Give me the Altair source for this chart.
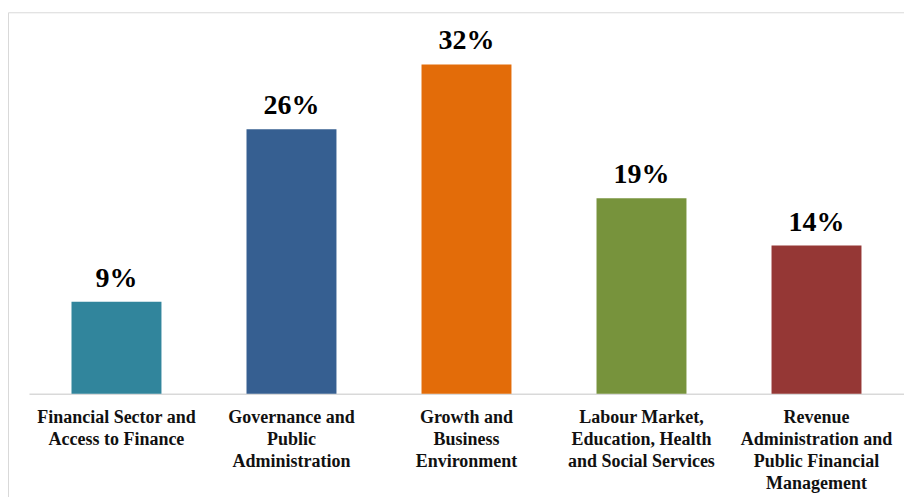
import altair as alt
import pandas as pd

categories = [
    "Financial Sector and|Access to Finance",
    "Governance and|Public|Administration",
    "Growth and|Business|Environment",
    "Labour Market,|Education, Health|and Social Services",
    "Revenue|Administration and|Public Financial|Management",
]
values = [8.95, 25.7, 32.0, 19.0, 14.4]
labels = ["9%", "26%", "32%", "19%", "14%"]
colors = ["#31859C", "#365F91", "#E36C09", "#77933C", "#953735"]

df = pd.DataFrame({"cat": categories, "val": values, "lab": labels})

FONT = "Liberation Serif"

x = alt.X(
    "cat:N",
    sort=categories,
    scale=alt.Scale(paddingInner=0.486, paddingOuter=0.243),
    axis=alt.Axis(
        title=None,
        labelAngle=0,
        ticks=False,
        labelPadding=15,
        labelBaseline="top",
        labelAlign="center",
        labelFont=FONT,
        labelFontSize=18,
        labelFontWeight="bold",
        labelColor="#111111",
        labelLineHeight=22,
        labelLimit=0,
        labelExpr="split(datum.label, '|')",
        domainColor="#D9D9D9",
        domainWidth=1.5,
        grid=False,
    ),
)
y = alt.Y("val:Q", scale=alt.Scale(domain=[0, 36], nice=False), axis=None)

base = alt.Chart(df)

bars = base.mark_bar().encode(
    x=x,
    y=y,
    color=alt.Color("cat:N", scale=alt.Scale(domain=categories, range=colors), legend=None),
)

text = base.mark_text(
    dy=-15, baseline="alphabetic", font=FONT, fontSize=28, fontWeight="bold", color="#000000"
).encode(x=x, y=y, text="lab:N")

border = alt.Chart(pd.DataFrame({"a": [0]})).mark_rect(
    fill=None, stroke="#D9D9D9", strokeWidth=1
).encode(
    x=alt.value(-20.5), x2=alt.value(990), y=alt.value(-10.5), y2=alt.value(700)
)

chart = alt.layer(border, bars, text).properties(
    width=876,
    height=371,
    autosize=alt.AutoSizeParams(type="none"),
    padding={"left": 21, "top": 15, "right": 0, "bottom": 103},
).configure_view(stroke=None)

chart.save("out.html", embed_options={"renderer": "svg", "actions": False})
